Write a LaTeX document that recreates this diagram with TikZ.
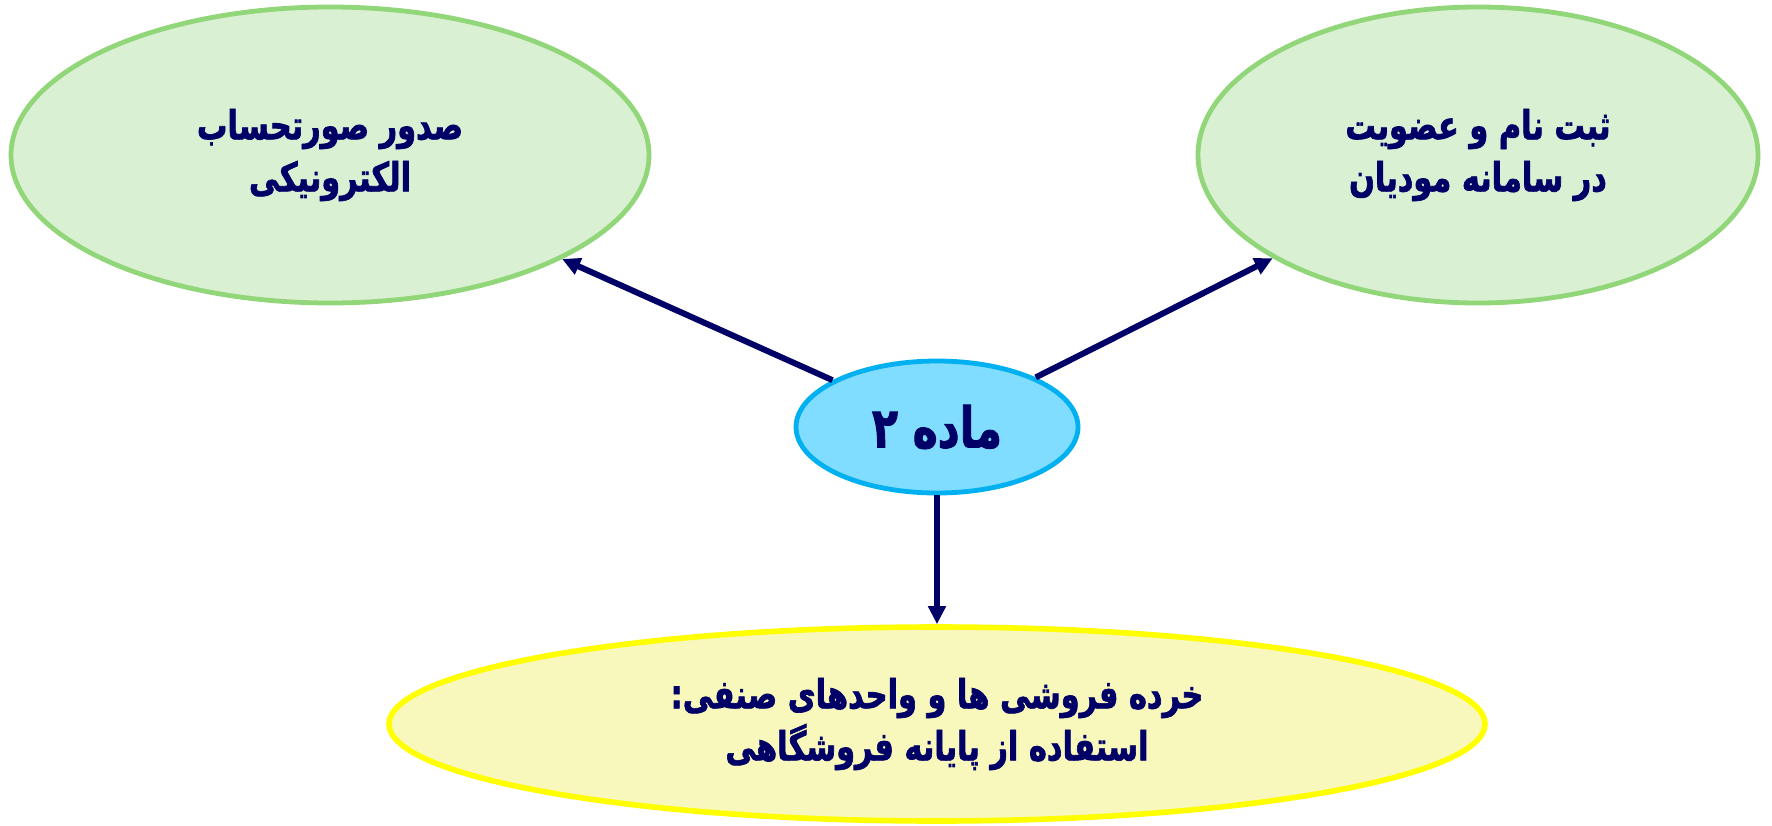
\documentclass[tikz,border=0pt]{standalone}
\usepackage{fontspec}
\newfontfamily\arabicfont[Script=Arabic, FakeStretch=0.76, BoldFeatures={FakeBold=1.6}]{DejaVu Sans}
\TeXXeTstate=1
\usetikzlibrary{shapes.geometric,arrows.meta}
\definecolor{txtnavy}{RGB}{0,0,102}
\definecolor{greenfill}{RGB}{218,240,211}
\definecolor{greenline}{RGB}{146,214,122}
\definecolor{bluefill}{RGB}{128,221,255}
\definecolor{blueline}{RGB}{0,176,240}
\definecolor{yellowfill}{RGB}{248,248,188}
\definecolor{yellowline}{RGB}{255,255,0}
\tikzset{
  bubble/.style={ellipse, inner sep=0pt, text=txtnavy, align=center,
    font=\arabicfont\bfseries\fontsize{20}{26}\selectfont},
  greenbubble/.style={bubble, fill=greenfill, draw=greenline, line width=2.4pt},
  bluebubble/.style={bubble, fill=bluefill, draw=blueline, line width=2.4pt,
    font=\arabicfont\bfseries\fontsize{28}{32}\selectfont},
  yellowbubble/.style={bubble, fill=yellowfill, draw=yellowline, line width=2.8pt},
  link/.style={draw=txtnavy, line width=3pt, -{Triangle[length=9pt,width=8.5pt]}}
}
\begin{document}
\begin{tikzpicture}[x=0.5pt,y=-0.5pt]
\useasboundingbox (0,0) rectangle (1772,825);
\node[greenbubble, minimum width=319pt, minimum height=148pt] (tl) at (330,155)
  {\beginR صدور صورتحساب\endR\\\beginR الکترونیکی\endR};
\node[greenbubble, minimum width=280pt, minimum height=148pt] (tr) at (1478,155)
  {\beginR ثبت نام و عضویت\endR\\\beginR در سامانه مودیان\endR};
\node[bluebubble, minimum width=141pt, minimum height=66pt] (c) at (937,427)
  {\beginR ماده ۲\endR};
\node[yellowbubble, minimum width=548pt, minimum height=97pt] (b) at (937,724)
  {\beginR خرده فروشی ها و واحدهای صنفی:\endR\\\beginR استفاده از پایانه فروشگاهی\endR};
\draw[link] (c) -- (tl);
\draw[link] (c) -- (tr);
\draw[link] (c) -- (b);
\end{tikzpicture}
\end{document}
